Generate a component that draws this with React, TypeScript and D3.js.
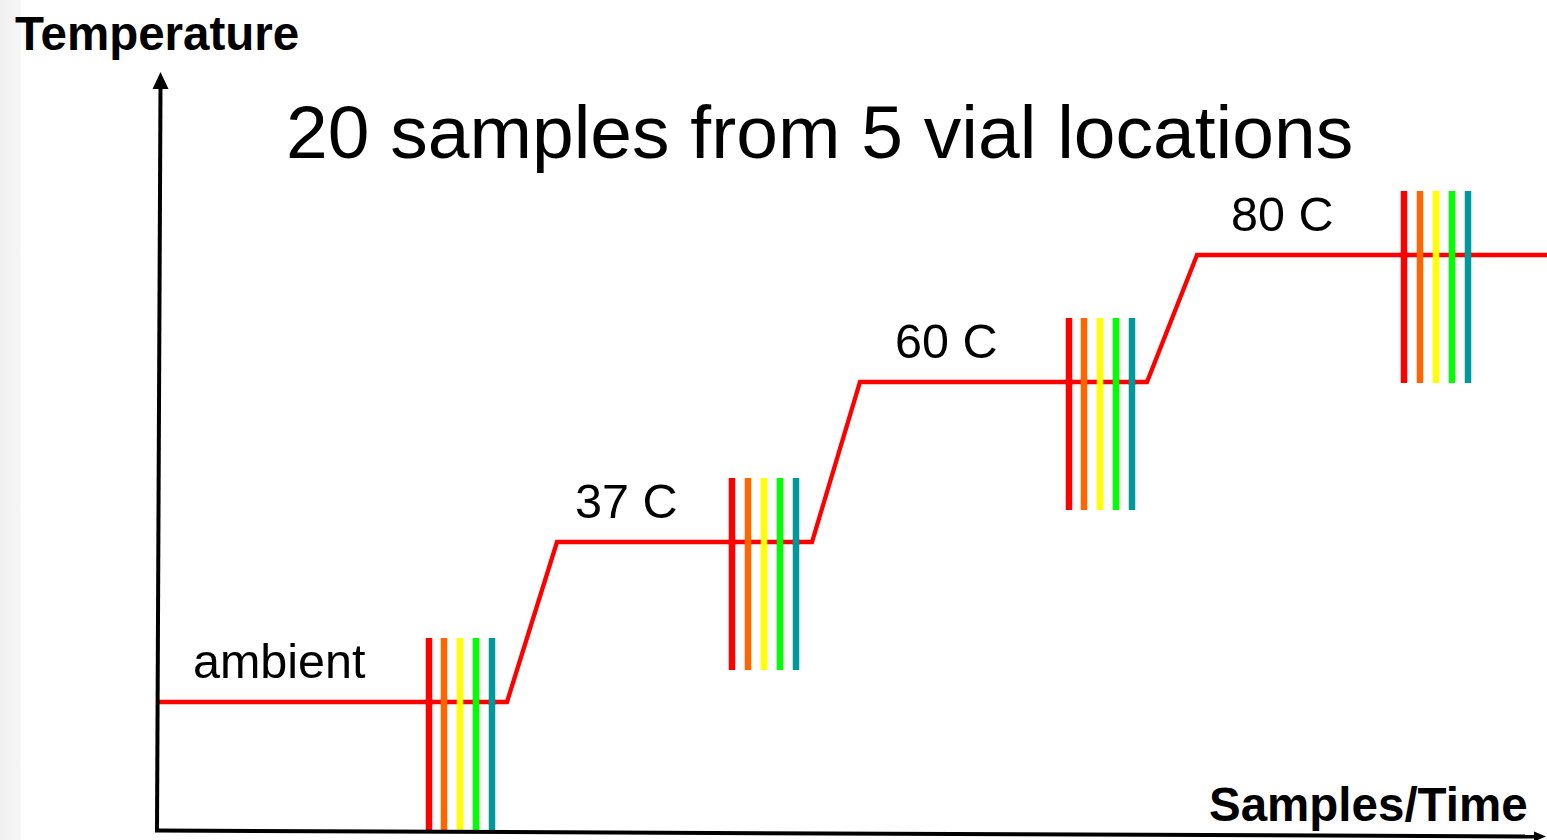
import React from "react";
import * as d3 from "d3";

// ---- data (arbitrary diagram units) ----
const levelNames = ["ambient", "37 C", "60 C", "80 C"];
const levelValues = [12.9, 28.9, 44.9, 57.6]; // temperature level (axis units)
const labelTimes = [3.5, 41.7, 73.7, 107.3]; // where each level label starts
// temperature profile: [time, temperature]
const profileTimes = [0, 34.9, 39.9, 65.4, 70.2, 98.9, 103.9, 138.9];
const profileTemps = [12.9, 12.9, 28.9, 28.9, 44.9, 44.9, 57.6, 57.6];
// sample times for the 5 vials at each level
const sampleTimesAmbient = [27.1, 28.6, 30.2, 31.8, 33.4];
const sampleTimes37 = [57.4, 59.0, 60.6, 62.2, 63.8];
const sampleTimes60 = [91.1, 92.6, 94.2, 95.8, 97.4];
const sampleTimes80 = [124.6, 126.2, 127.8, 129.4, 131.0];
const vialColors = ["#ff0000", "#ff6600", "#ffff00", "#00ff00", "#009999"];
const title = "20 samples from 5 vial locations";
const yAxisTitle = "Temperature";
const xAxisTitle = "Samples/Time";

const W = 1547;
const H = 840;
const FONT = "'Liberation Sans', Arial, Helvetica, sans-serif";

export default function App() {
  const x = d3.scaleLinear().domain([0, 138.9]).range([158, 1547]);
  const y = d3.scaleLinear().domain([0, 76]).range([831, 71]);

  const profile = profileTimes.map((t, i) => [t, profileTemps[i]] as [number, number]);
  const line = d3
    .line<[number, number]>()
    .x((d) => x(d[0]))
    .y((d) => y(d[1]));

  const groups = [sampleTimesAmbient, sampleTimes37, sampleTimes60, sampleTimes80];

  return (
    <svg
      width={W}
      height={H}
      style={{ position: "absolute", left: 0, top: 0, display: "block", background: "#ffffff" }}
    >
      <defs>
        <linearGradient id="strip" x1="0" x2="1" y1="0" y2="0">
          <stop offset="0" stopColor="#f0f0f0" />
          <stop offset="1" stopColor="#f6f6f6" />
        </linearGradient>
      </defs>
      <rect x={0} y={0} width={21} height={H} fill="url(#strip)" />

      {/* sample bars */}
      {groups.map((g, gi) =>
        g.map((t, vi) => (
          <line
            key={`b${gi}-${vi}`}
            x1={x(t)}
            x2={x(t)}
            y1={y(levelValues[gi] + 6.4)}
            y2={y(levelValues[gi] - 12.8)}
            stroke={vialColors[vi]}
            strokeWidth={6.5}
          />
        ))
      )}

      {/* temperature profile */}
      <path
        d={line(profile) || ""}
        fill="none"
        stroke="#ff0000"
        strokeWidth={4.3}
        strokeLinejoin="miter"
      />

      {/* bars are drawn over the line where they cross it */}
      {groups.map((g, gi) =>
        g.map((t, vi) => (
          <line
            key={`c${gi}-${vi}`}
            x1={x(t)}
            x2={x(t)}
            y1={y(levelValues[gi]) - 3}
            y2={y(levelValues[gi]) + 3}
            stroke={vialColors[vi]}
            strokeWidth={6.5}
          />
        ))
      )}

      {/* axes */}
      <line x1={160.5} y1={86} x2={157} y2={831} stroke="#000" strokeWidth={4} />
      <path d="M160.5,72 L152.5,89 L168.5,89 Z" fill="#000" />
      <line x1={155} y1={830.5} x2={1537} y2={836.5} stroke="#000" strokeWidth={4} />
      <path d="M1546,836.5 L1534,831.5 L1534,841.5 Z" fill="#000" />

      {/* labels */}
      <text x={15} y={50} fontFamily={FONT} fontWeight="bold" fontSize={47.5} fill="#000">
        {yAxisTitle}
      </text>
      <text x={1209} y={821} fontFamily={FONT} fontWeight="bold" fontSize={47.5} fill="#000">
        {xAxisTitle}
      </text>
      <text x={286} y={158} fontFamily={FONT} fontSize={75} fill="#000">
        {title}
      </text>
      {levelNames.map((name, i) => (
        <text
          key={name}
          x={x(labelTimes[i])}
          y={y(levelValues[i]) - 24}
          fontFamily={FONT}
          fontSize={48.5}
          fill="#000"
        >
          {name}
        </text>
      ))}
    </svg>
  );
}
